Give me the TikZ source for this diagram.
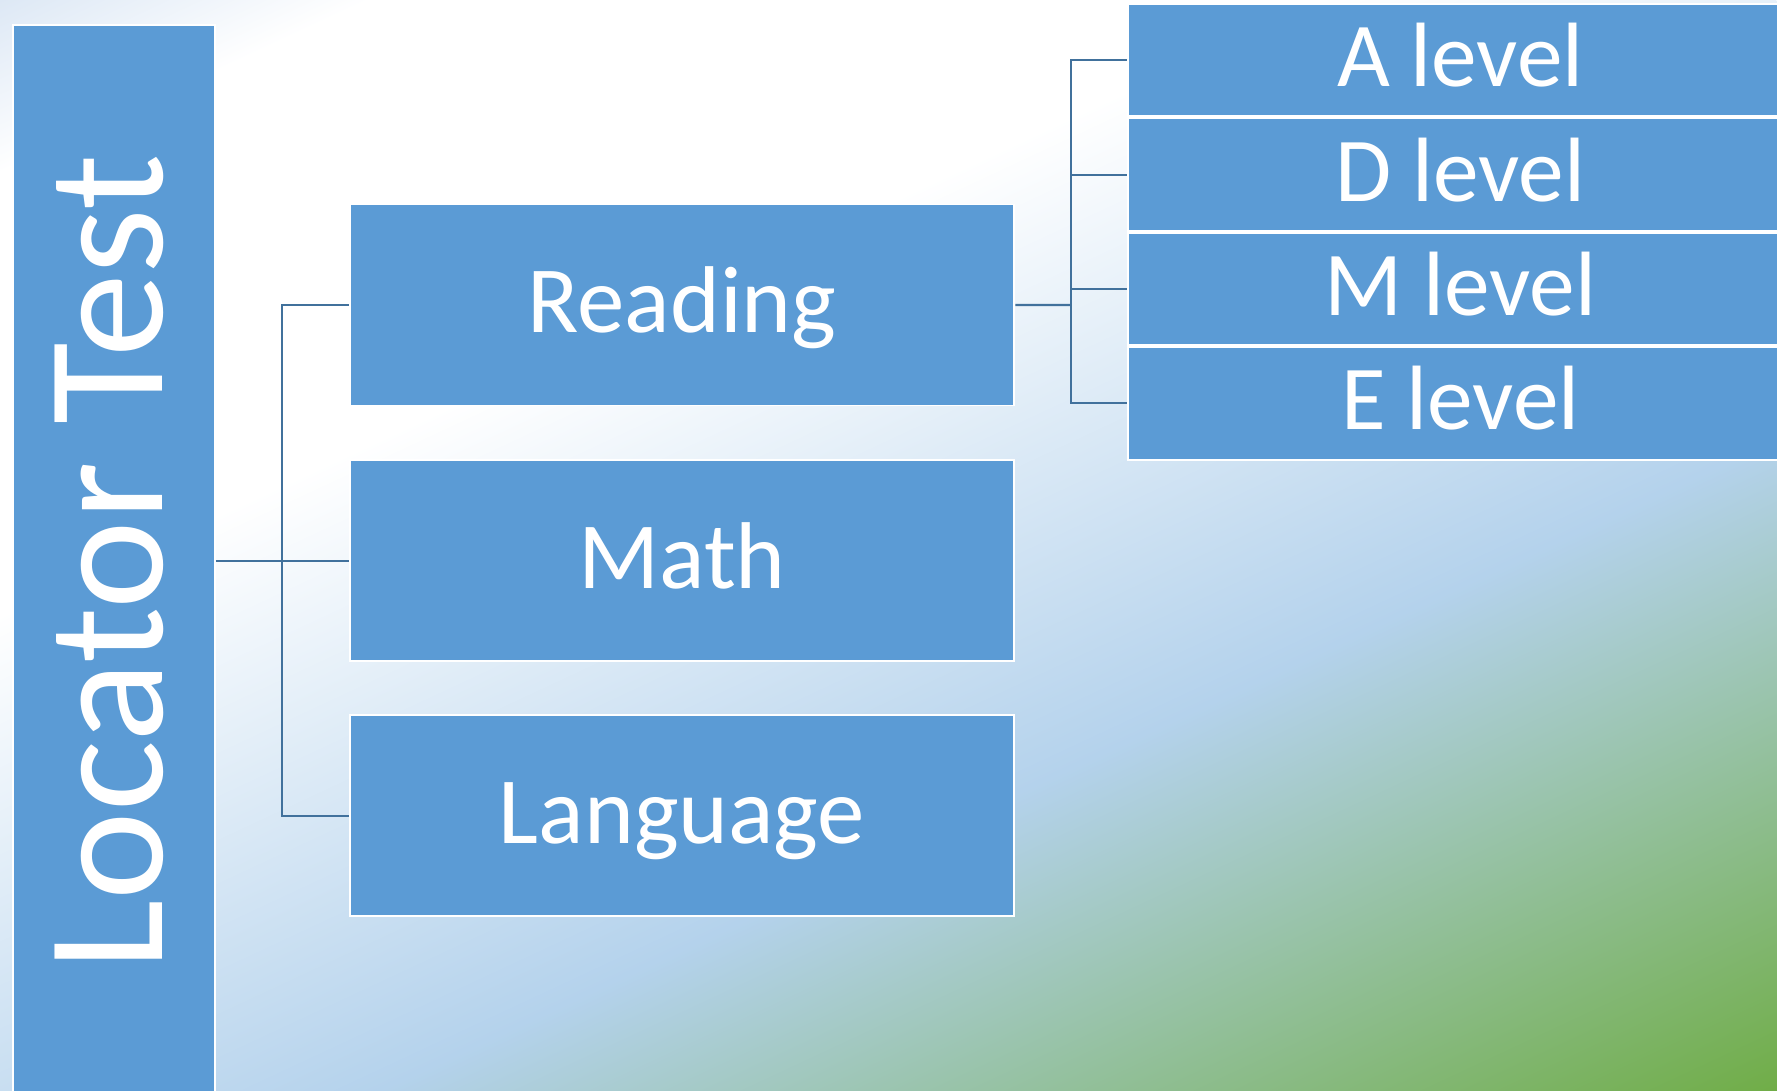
\documentclass[tikz,border=0pt]{standalone}
\usepackage{fontspec}
\setmainfont{Carlito}
\usepackage{graphicx}
\usepackage{tikz}
\usetikzlibrary{positioning,calc}
\definecolor{boxblue}{HTML}{5B9BD5}
\definecolor{linkblue}{HTML}{41719C}
\definecolor{bgtint}{HTML}{DDE8F5}
\definecolor{bgblue}{HTML}{B4D2EC}
\definecolor{bggreen}{HTML}{70AD47}
\pgfdeclarehorizontalshading{bgfade}{100bp}{color(0bp)=(bgtint); color(25bp)=(bgtint); color(29.5bp)=(white); color(41bp)=(white); color(58bp)=(bgblue); color(75bp)=(bggreen); color(100bp)=(bggreen)}

\begin{document}
\begin{tikzpicture}[x=0.02cm, y=0.02cm, node distance=1.06cm,
    box/.style={draw=white, line width=1.1pt, fill=boxblue, text=white, inner sep=0pt, rectangle},
    subject/.style={box, minimum width=13.3cm, minimum height=4.02cm, font=\fontsize{54}{60}\selectfont, text height=40.5pt, text depth=9.2pt},
    lvlbox/.style={box, minimum width=13.3cm, minimum height=2.25cm, font=\fontsize{52}{58}\selectfont, text height=39pt, text depth=8.8pt},
    link/.style={draw=linkblue, line width=1.2pt}]
    \useasboundingbox (0,0) rectangle (1777,-1091);
    \clip (0,0) rectangle (1777,-1091);
    \begin{scope}[transform canvas={rotate=-65}]
        \shade[shading=bgfade] (0,-461) rectangle (1740,1610);
    \end{scope}

    \node [box, minimum width=4.04cm, minimum height=21.5cm] (Locator) at (114,-562.5) {\rotatebox{90}{\fontsize{95.4}{100}\selectfont\rule[-6.1pt]{0pt}{61.4pt}Locator Test}};
    \node [subject] (Reading) at (682,-305) {Reading};
    \node [subject, below=of Reading] (Math) {Math};
    \node [subject, below=1.04cm of Math] (Language) {Language};

    \node [lvlbox, anchor=north west] (LvlA) at (1127,-3) {A level};
    \node [lvlbox, below=0pt of LvlA] (LvlD) {D level};
    \node [lvlbox, below=0pt of LvlD] (LvlM) {M level};
    \node [lvlbox, below=0pt of LvlM] (LvlE) {E level};

    \coordinate (trunk) at ($(Locator.east |- Math.west)!0.5!(Math.west)$);
    \coordinate (fork) at ($(Reading.east)!0.5!(Reading.east -| LvlA.west)$);
    \draw [link] (Locator.east |- Math.west) -- (Math.west);
    \draw [link] (Reading.west) -| (trunk) |- (Language.west);
    \draw [link] (Reading.east) -- (fork);
    \foreach \lv in {LvlA,LvlD,LvlM,LvlE}
        \draw [link] (fork) |- (\lv.west);
\end{tikzpicture}
\end{document}
